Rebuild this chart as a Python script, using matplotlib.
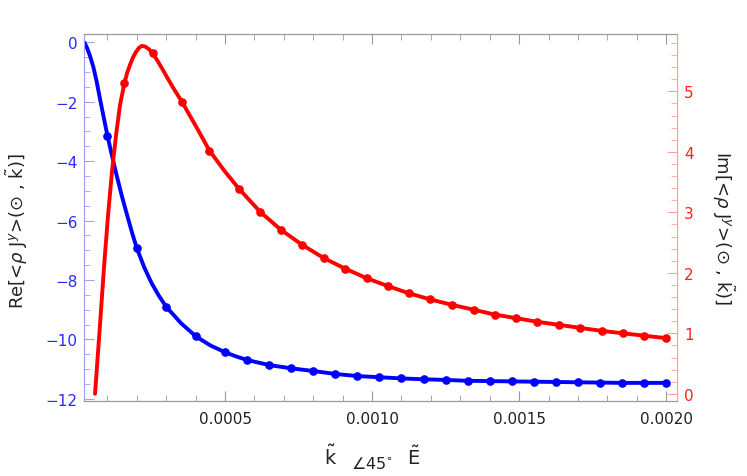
import numpy as np
import matplotlib
matplotlib.use("Agg")
import matplotlib.pyplot as plt
from matplotlib.ticker import MultipleLocator, FormatStrFormatter

plt.rcParams['mathtext.fontset'] = 'dejavusans'
plt.rcParams['axes.unicode_minus'] = True

# ---- data ----
# Re part (left axis, blue): marker points
re_x = [0.0001, 0.0002, 0.0003, 0.0004, 0.0005, 0.000575, 0.00065, 0.000725, 0.0008,
        0.000875, 0.00095, 0.001025, 0.0011, 0.001175, 0.00125, 0.001325, 0.0014,
        0.001475, 0.00155, 0.001625, 0.0017, 0.001775, 0.00185, 0.001925, 0.002]
re_y = [-3.14, -6.93, -8.90, -9.89, -10.43, -10.69, -10.86, -10.97, -11.06,
        -11.16, -11.23, -11.27, -11.31, -11.34, -11.36, -11.39, -11.40,
        -11.41, -11.42, -11.43, -11.44, -11.45, -11.46, -11.46, -11.46]
# extra points (between markers)
re_line_x = [0.0000214, 0.0000306, 0.0000408, 0.000052, 0.0000629, 0.0000748, 0.0000884,
             0.000115, 0.0001316, 0.00015, 0.000171, 0.000185, 0.000225, 0.00025, 0.000275,
             0.00035, 0.00045, 0.0005375]
re_line_y = [0.0, -0.19, -0.46, -0.83, -1.30, -1.91, -2.58,
             -3.80, -4.49, -5.21, -5.96, -6.45, -7.57, -8.10, -8.53,
             -9.45, -10.20, -10.57]

# Im part (right axis, red): marker points
im_x = [0.0001575, 0.000254, 0.000353, 0.000447, 0.000547, 0.000619, 0.00069, 0.000763,
        0.000837, 0.000908, 0.000982, 0.001054, 0.001126, 0.001198, 0.001272, 0.001345,
        0.001417, 0.00149, 0.001562, 0.001635, 0.001707, 0.001781, 0.001853, 0.001926, 0.002]
im_y = [5.13, 5.63, 4.83, 4.02, 3.39, 3.01, 2.71, 2.46,
        2.24, 2.07, 1.91, 1.78, 1.66, 1.56, 1.47, 1.39,
        1.31, 1.25, 1.19, 1.14, 1.09, 1.04, 1.00, 0.96, 0.92]
# extra points
im_line_x = [0.0000578, 0.0000748, 0.0000884, 0.000102, 0.0001156, 0.0001293, 0.0001429,
             0.0001667, 0.0001769, 0.000187, 0.000197, 0.0002075, 0.0002167, 0.000228, 0.00024,
             0.000272, 0.000289, 0.000304, 0.000327, 0.0004, 0.000497]
im_line_y = [0.0, 1.15, 2.10, 2.95, 3.68, 4.28, 4.78,
             5.30, 5.44, 5.56, 5.65, 5.72, 5.75, 5.74, 5.70,
             5.49, 5.35, 5.22, 5.03, 4.43, 3.69]

xticks = [0.0005, 0.0010, 0.0015, 0.0020]
re_ticks = [0, -2, -4, -6, -8, -10, -12]
im_ticks = [0, 1, 2, 3, 4, 5]

# merge line points with marker points
re_all = sorted(zip(re_line_x + re_x, re_line_y + re_y))
im_all = sorted(zip(im_line_x + im_x, im_line_y + im_y))

fig = plt.figure(figsize=(7.47, 4.77), dpi=100)
ax = fig.add_axes([0.1129, 0.1566, 0.7938, 0.77])
ax2 = ax.twinx()

blue = (0, 0, 1)
red = (1, 0, 0)

ax.plot([p[0] for p in re_all], [p[1] for p in re_all], color=blue, lw=2.8,
        solid_capstyle='round', solid_joinstyle='round')
ax.plot(re_x, re_y, 'o', color=blue, ms=5.2)
ax2.plot([p[0] for p in im_all], [p[1] for p in im_all], color=red, lw=2.8,
         solid_capstyle='round', solid_joinstyle='round')
ax2.plot(im_x, im_y, 'o', color=red, ms=5.2)

ax.set_xlim(0.0000214, 0.002038)
ax.set_ylim(-12.08, 0.28)
ax2.set_ylim(-0.124, 5.947)

ax.set_xticks(xticks)
ax.xaxis.set_major_formatter(FormatStrFormatter('%.4f'))
ax.xaxis.set_minor_locator(MultipleLocator(0.0001))
ax.set_yticks(re_ticks)
ax.yaxis.set_minor_locator(MultipleLocator(0.5))
ax2.set_yticks(im_ticks)
ax2.yaxis.set_minor_locator(MultipleLocator(0.2))

gray = '#999999'
for a in (ax, ax2):
    a.spines['top'].set_color(gray)
    a.spines['bottom'].set_color(gray)
    a.spines['left'].set_color('#9f9fff')
    a.spines['right'].set_color('#ff9f9f')

ax.tick_params(axis='x', which='both', direction='in', top=True, colors=gray,
               labelcolor='#222222', labelsize=11, pad=7)
ax.tick_params(axis='x', which='major', length=7)
ax.tick_params(axis='x', which='minor', length=4)
ax.tick_params(axis='y', which='both', direction='in', colors='#9f9fff',
               labelcolor='#2a2aff', labelsize=11, pad=5)
ax.tick_params(axis='y', which='major', length=7)
ax.tick_params(axis='y', which='minor', length=4)
ax2.tick_params(axis='y', which='both', direction='in', colors='#ff9f9f',
                labelcolor='#ff2020', labelsize=11, pad=5)
ax2.tick_params(axis='y', which='major', length=7)
ax2.tick_params(axis='y', which='minor', length=4)

fig.text(0.023, 0.515, r'Re[<$\rho$ J$^{y}$>($\odot$ , $\tilde{\mathrm{k}}$)]',
         rotation=90, ha='center', va='center', fontsize=13, color='#222222')
fig.text(0.968, 0.522, r'Im[<$\rho$ J$^{y}$>($\odot$ , $\tilde{\mathrm{k}}$)]',
         rotation=270, ha='center', va='center', fontsize=13, color='#222222')

# x label in three pieces: k~ , angle 45 deg (lowered), E~
fig.text(0.443, 0.025, r'$\tilde{\mathrm{k}}$', ha='center', va='baseline',
         fontsize=14, color='#222222')
fig.text(0.498, 0.016, r'$\angle 45^{\circ}$', ha='center', va='baseline',
         fontsize=11.5, color='#222222')
fig.text(0.554, 0.025, r'$\tilde{\mathrm{E}}$', ha='center', va='baseline',
         fontsize=14, color='#222222')

fig.savefig('out.png', dpi=100)
